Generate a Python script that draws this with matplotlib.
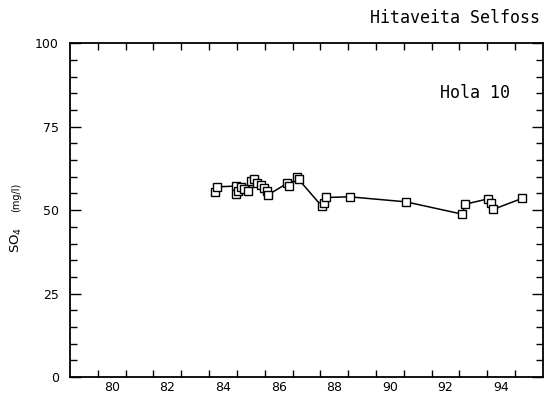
#!/usr/bin/env python3
import numpy as np
import matplotlib
matplotlib.use("Agg")
import matplotlib.pyplot as plt
from matplotlib.ticker import MultipleLocator

# sampling date (year, 19xx) and SO4 (mg/l)
years = [84.22, 84.28, 84.95, 84.98, 85.05, 85.15, 85.25, 85.40, 85.52, 85.60,
         85.72, 85.85, 85.98, 86.08, 86.12, 86.80, 86.88, 87.15, 87.22, 88.05,
         88.12, 88.20, 89.05, 91.07, 93.10, 93.20, 94.04, 94.12, 94.20, 95.24]
so4 = [55.5, 57.0, 57.2, 54.8, 55.8, 56.8, 56.2, 55.6, 58.8, 59.2,
       58.0, 57.4, 56.6, 55.6, 54.6, 58.0, 57.2, 60.0, 59.2, 51.2,
       52.0, 53.8, 54.0, 52.5, 48.8, 51.8, 53.4, 52.2, 50.2, 53.5]

year_labels = ["80", "82", "84", "86", "88", "90", "92", "94"]
y_ticks = [0, 25, 50, 75, 100]

fig = plt.figure(figsize=(5.49, 4.03), dpi=100)
ax = fig.add_axes([0.1275, 0.0645, 0.8615, 0.828])

ax.plot(years, so4, '-', color='black', lw=1.1,
        marker='s', ms=5.6, mfc='white', mec='black', mew=1.0)

ax.set_xlim(79, 96)
ax.set_ylim(0, 100)

# year ticks at year start, labels centred in the year
ax.set_xticks(np.arange(80, 96))
ax.set_xticklabels([])
ax.set_xticks([int(s) + 0.5 for s in year_labels], minor=True)
ax.set_xticklabels(year_labels, minor=True)
ax.tick_params(axis='x', which='major', direction='in', top=True, bottom=True,
               length=5, width=1)
ax.tick_params(axis='x', which='minor', length=0, pad=3, labelsize=9)

ax.set_yticks(y_ticks)
ax.yaxis.set_minor_locator(MultipleLocator(5))
ax.tick_params(axis='y', which='major', direction='in', left=True, right=True,
               length=8, width=1, labelsize=9, pad=8)
ax.tick_params(axis='y', which='minor', direction='in', left=True, right=True,
               length=5, width=1)

for s in ax.spines.values():
    s.set_linewidth(1.3)

ax.text(94.8, 85, "Hola 10", ha='right', va='center',
        family='DejaVu Sans Mono', fontsize=12)
fig.text(0.983, 0.955, "Hitaveita Selfoss", ha='right', va='center',
         family='DejaVu Sans Mono', fontsize=12)

fig.text(0.03, 0.405, r"SO$_4$", rotation=90, ha='center', va='center', fontsize=9.5)
fig.text(0.03, 0.51, "(mg/l)", rotation=90, ha='center', va='center', fontsize=7)

fig.savefig("out.png", dpi=100)
